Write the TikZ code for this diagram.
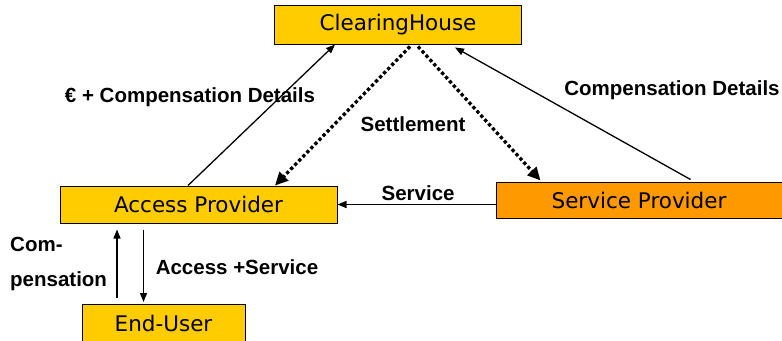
\documentclass[tikz,border=0pt]{standalone}
\usepackage{fontspec}
\setmainfont{DejaVu Sans}
\newfontfamily\lblfont{Liberation Sans}
\usetikzlibrary{arrows.meta,shapes}

\tikzset{
  party/.style={draw,line width=1pt,rectangle,fill=yellowbox,minimum height=37bp,inner sep=0pt,font=\fontsize{21.5bp}{25bp}\selectfont},
  flow/.style={-{Triangle[length=9bp,width=7bp]},line width=1.3pt},
  settle/.style={-{Triangle[length=13bp,width=12bp]},line width=3.3bp,dash pattern=on 3.3bp off 2.5bp},
  lbl/.style={font=\lblfont\bfseries\fontsize{20.5bp}{24bp}\selectfont,inner sep=0pt}
}
\definecolor{yellowbox}{HTML}{FFCC00}
\definecolor{orangebox}{HTML}{FF9900}

\begin{document}
\begin{tikzpicture}
\useasboundingbox (0bp,0bp) rectangle (782bp,-341bp);

\node (CH) at (398bp,-24.5bp)[party,minimum width=247bp,minimum height=39bp] {ClearingHouse};
\node (AP) at (198.5bp,-204.5bp)[party,minimum width=277bp] {Access Provider};
\node (SP) at (639bp,-200bp)[party,minimum width=286bp,minimum height=36bp,fill=orangebox] {Service Provider};
\node (EU) at (163.5bp,-323bp)[party,minimum width=163bp] {End-User};

% end-user link points
\coordinate (EUup) at ([xshift=-46.5bp]EU.north);
\coordinate (EUdown) at ([xshift=-20bp]EU.north);

\draw [flow] ([xshift=-10.5bp]AP.north) to ([xshift=-63bp]CH.south);
\draw [flow] ([xshift=51.5bp,yshift=2bp]SP.north) to ([xshift=57bp,yshift=-3bp]CH.south);
\draw [settle] ([xshift=12bp,yshift=-2bp]CH.south) to ([xshift=76.5bp]AP.north);
\draw [settle] ([xshift=20bp,yshift=-2bp]CH.south) to ([xshift=-98.5bp,yshift=1bp]SP.north);
\draw [flow] (SP.west |- AP.east) to node[above=3bp,pos=0.49,lbl] {Service} (AP.east);
\draw [flow,shorten <=6bp,shorten >=6bp] (EUup) to (AP.south -| EUup);
\draw [flow,shorten <=6bp,shorten >=2bp] (AP.south -| EUdown) to (EUdown);

\node (money) at (190bp,-97bp)[lbl] {€ + Compensation Details};
\node (details) at (672bp,-90bp)[lbl] {Compensation Details};
\node (settlement) at (413bp,-124bp)[lbl] {Settlement};
\node (comp) at (10bp,-264bp)[lbl,anchor=west,align=left] {Com-\\[11bp]pensation};
\node (access) at (237bp,-267bp)[lbl] {Access +Service};
\end{tikzpicture}
\end{document}
